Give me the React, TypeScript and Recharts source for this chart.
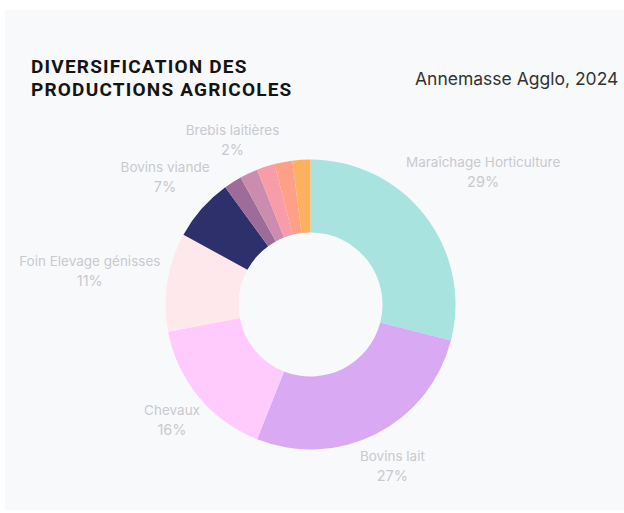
import React from "react";
import { PieChart, Pie, Cell } from "recharts";

const productions = [
  "Maraîchage Horticulture",
  "Bovins lait",
  "Chevaux",
  "Foin Elevage génisses",
  "Bovins viande",
  "Caprins",
  "Brebis laitières",
  "Porcins",
  "Volailles",
  "Apiculture",
];
const shares = [29, 27, 16, 11, 7, 2, 2, 2, 2, 2];
const colors = [
  "#a9e3df",
  "#d9aaf3",
  "#fecbfc",
  "#fee8ec",
  "#2e306c",
  "#9d6c98",
  "#cb8cae",
  "#f89ca8",
  "#fda087",
  "#fdb15e",
];
const labeled = [
  "Maraîchage Horticulture",
  "Bovins lait",
  "Chevaux",
  "Foin Elevage génisses",
  "Bovins viande",
  "Brebis laitières",
];

const data = productions.map((name, i) => ({ name, value: shares[i] }));

const RAD = Math.PI / 180;
const FONT = "Inter, 'Noto Sans', sans-serif";

// distance from the pie centre to the closest point of a box
function boxGap(x: number, y: number, hw: number, hh: number) {
  const gx = Math.max(Math.abs(x) - hw, 0);
  const gy = Math.max(Math.abs(y) - hh, 0);
  return Math.hypot(gx, gy);
}

// label box centred on the mid-angle ray, pushed out until it clears the ring
function SliceLabel(props: any) {
  const { cx, cy, midAngle, outerRadius, name, value } = props;
  if (!labeled.includes(name)) return null;
  const ux = Math.cos(-midAngle * RAD);
  const uy = Math.sin(-midAngle * RAD);
  const hw = (name.length * 13.5 * 0.5) / 2;
  const hh = 16.5;
  const target = outerRadius + 6;
  let lo = 0;
  let hi = 400;
  for (let k = 0; k < 40; k++) {
    const mid = (lo + hi) / 2;
    if (boxGap(mid * ux, mid * uy, hw, hh) < target) lo = mid;
    else hi = mid;
  }
  const x = cx + hi * ux;
  const y = cy + hi * uy;
  return (
    <text x={x} y={y} textAnchor="middle" fill="#c9c9ce" fontFamily={FONT}>
      <tspan x={x} y={y - 4} fontSize={13.5}>{name}</tspan>
      <tspan x={x} y={y + 16} fontSize={14.5}>{value}%</tspan>
    </text>
  );
}

export default function App() {
  return (
    <div style={{ position: "fixed", left: 0, top: 0, width: 624, height: 513, background: "#ffffff" }}>
      <div style={{ position: "absolute", left: 5, top: 10, width: 619, height: 500, background: "#f8f9fb" }} />
      <div
        style={{
          position: "absolute",
          left: 31,
          top: 55,
          fontFamily: "Roboto, sans-serif",
          fontWeight: 700,
          fontSize: 19,
          lineHeight: "23px",
          letterSpacing: 1.2,
          color: "#141414",
        }}
      >
        DIVERSIFICATION DES
        <br />
        PRODUCTIONS AGRICOLES
      </div>
      <div
        style={{
          position: "absolute",
          left: 415,
          top: 68,
          fontFamily: FONT,
          fontSize: 17.5,
          color: "#333333",
        }}
      >
        Annemasse Agglo, 2024
      </div>
      <div style={{ position: "absolute", left: 0, top: 0 }}>
        <PieChart width={624} height={513}>
          <Pie
            data={data}
            dataKey="value"
            nameKey="name"
            cx={305.5}
            cy={299.5}
            innerRadius={72}
            outerRadius={145}
            startAngle={90}
            endAngle={-270}
            stroke="none"
            label={SliceLabel}
            labelLine={false}
            isAnimationActive={false}
          >
            {data.map((d, i) => (
              <Cell key={d.name} fill={colors[i]} />
            ))}
          </Pie>
        </PieChart>
      </div>
    </div>
  );
}
